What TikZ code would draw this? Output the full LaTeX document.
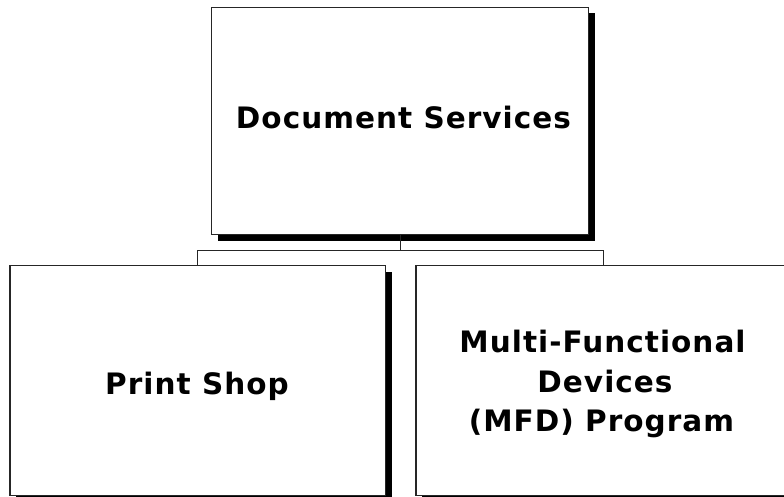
\documentclass[tikz,border=0pt]{standalone}
\usepackage{fontspec}
\newfontfamily\boxfont{DejaVu Sans}[LetterSpace=3.5]
\usetikzlibrary{shadows}
\begin{document}
\begin{tikzpicture}[x=1pt,y=-1pt,
  orgbox/.style={draw=black!85, line width=1.4pt, fill=white, inner sep=0pt,
    minimum width=#1, minimum height=228pt,
    drop shadow={shadow xshift=6pt, shadow yshift=-6pt, fill=black, opacity=1}},
  lbl/.style={font=\boxfont\bfseries\fontsize{29.5}{39.5}\selectfont, text=black, inner sep=0pt, align=center},
  conn/.style={draw=black!85, line width=1.3pt}
]
\clip (0,0) rectangle (784,497);
\useasboundingbox (0,0) rectangle (784,497);
\fill[white] (0,0) rectangle (784,497);
\node[orgbox=377pt, minimum height=227pt] (top) at (400,121) {};
\node[orgbox=375.5pt, minimum height=230pt] (ps) at (197.75,380.5) {};
\node[orgbox=375.5pt, minimum height=230pt] (mfd) at (603.75,380.5) {};
\node[lbl, anchor=base] (toptxt) at (403.5,128.5) {Document Services};
\node[lbl, anchor=base] (pstxt) at (197,394) {Print Shop};
\node[lbl, anchor=base] (mfdtxt1) at (602.5,352.7) {Multi-Functional};
\node[lbl, anchor=base] (mfdtxt2) at (605,392.3) {Devices};
\node[lbl, anchor=base] (mfdtxt3) at (601.5,431.7) {(MFD) Program};
\coordinate (j) at (400.5,250.5);
\draw[conn] (top.south -| j) -- (j);
\draw[conn] (ps.north) |- (j) -| (mfd.north);
\end{tikzpicture}
\end{document}
